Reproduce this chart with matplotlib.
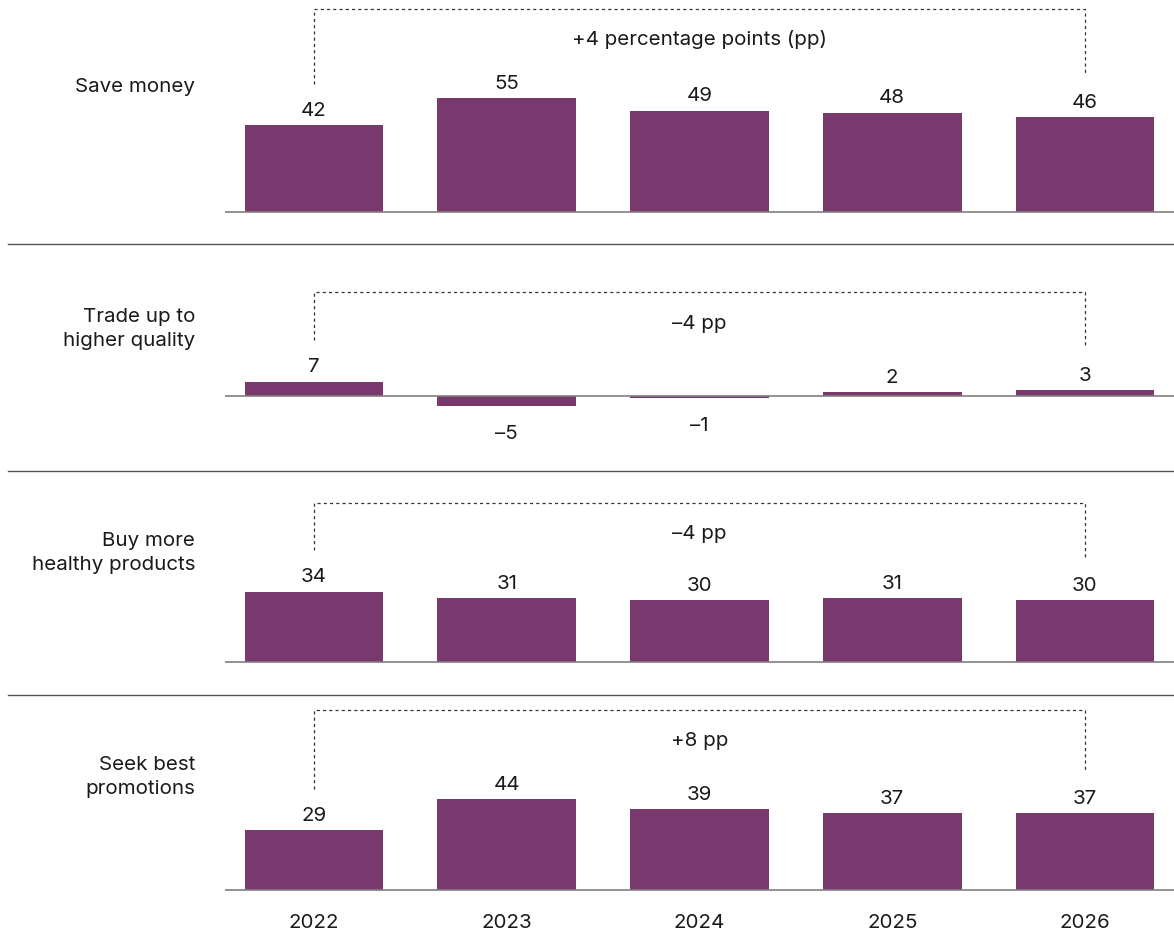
import matplotlib
matplotlib.use("Agg")
import matplotlib.pyplot as plt
from matplotlib.lines import Line2D

plt.rcParams['font.family'] = ['Inter', 'DejaVu Sans']

years = ['2022', '2023', '2024', '2025', '2026']
categories = ['Save money', 'Trade up to\nhigher quality',
              'Buy more\nhealthy products', 'Seek best\npromotions']
save_money = [42, 55, 49, 48, 46]
trade_up = [7, -5, -1, 2, 3]
healthy = [34, 31, 30, 31, 30]
promotions = [29, 44, 39, 37, 37]
series = [save_money, trade_up, healthy, promotions]

BAR = '#79396e'
TEXT = '#1a1a1a'
FS = 14.8

W, H = 1174, 937
S = 2.07  # pixels per percentage point
# (top, bottom, baseline) of each panel in pixels
panels = [(0, 245, 213), (245, 472, 397), (472, 696, 663), (696, 937, 891)]
label_y = [87, 329, 553, 777]
separators = [245, 472, 696]


def fmt(v):
    return f'\u2013{abs(v)}' if v < 0 else str(v)


fig = plt.figure(figsize=(W / 100, H / 100), dpi=100)

for i, (vals, (top, bottom, base)) in enumerate(zip(series, panels)):
    ax = fig.add_axes([225 / W, 1 - bottom / H, (1174 - 225) / W, (bottom - top) / H])
    ax.set_xlim(-0.462, 4.462)
    ax.set_ylim(-(bottom - base) / S, (base - top) / S)
    ax.axis('off')

    x = range(len(vals))
    ax.bar(x, vals, width=0.72, color=BAR, zorder=2)
    ax.axhline(0, color='#7f7f7f', lw=1.2, zorder=3)

    for xi, v in zip(x, vals):
        y = v + 4.9 if v >= 0 else v - 15.5
        ax.text(xi, y, fmt(v), ha='center', va='baseline', fontsize=FS, color=TEXT)

    # bracket showing the change from first to last year
    d = vals[-1] - vals[0]
    top_y = max(vals) + 43
    ax.plot([0, 0, 4, 4], [vals[0] + 20, top_y, top_y, vals[-1] + 20],
            color='#333333', lw=0.9, ls=(0, (2.5, 2.5)), clip_on=False)
    unit = 'percentage points (pp)' if i == 0 else 'pp'
    sign = '+' if d > 0 else '\u2013'
    ax.text(2, top_y - 17, f'{sign}{abs(d)} {unit}', ha='center', va='baseline',
            fontsize=FS, color=TEXT)

    if i == len(series) - 1:
        for xi, yr in zip(x, years):
            ax.text(xi, -17.9, yr, ha='center', va='baseline', fontsize=FS, color=TEXT)

    fig.text(195 / W, 1 - label_y[i] / H, categories[i], ha='right', va='center',
             fontsize=FS, color=TEXT, linespacing=1.45)

for y in separators:
    fig.add_artist(Line2D([8 / W, 1], [1 - y / H] * 2, color='#555555', lw=1.0))

fig.savefig('out.png', dpi=100, facecolor='white')
